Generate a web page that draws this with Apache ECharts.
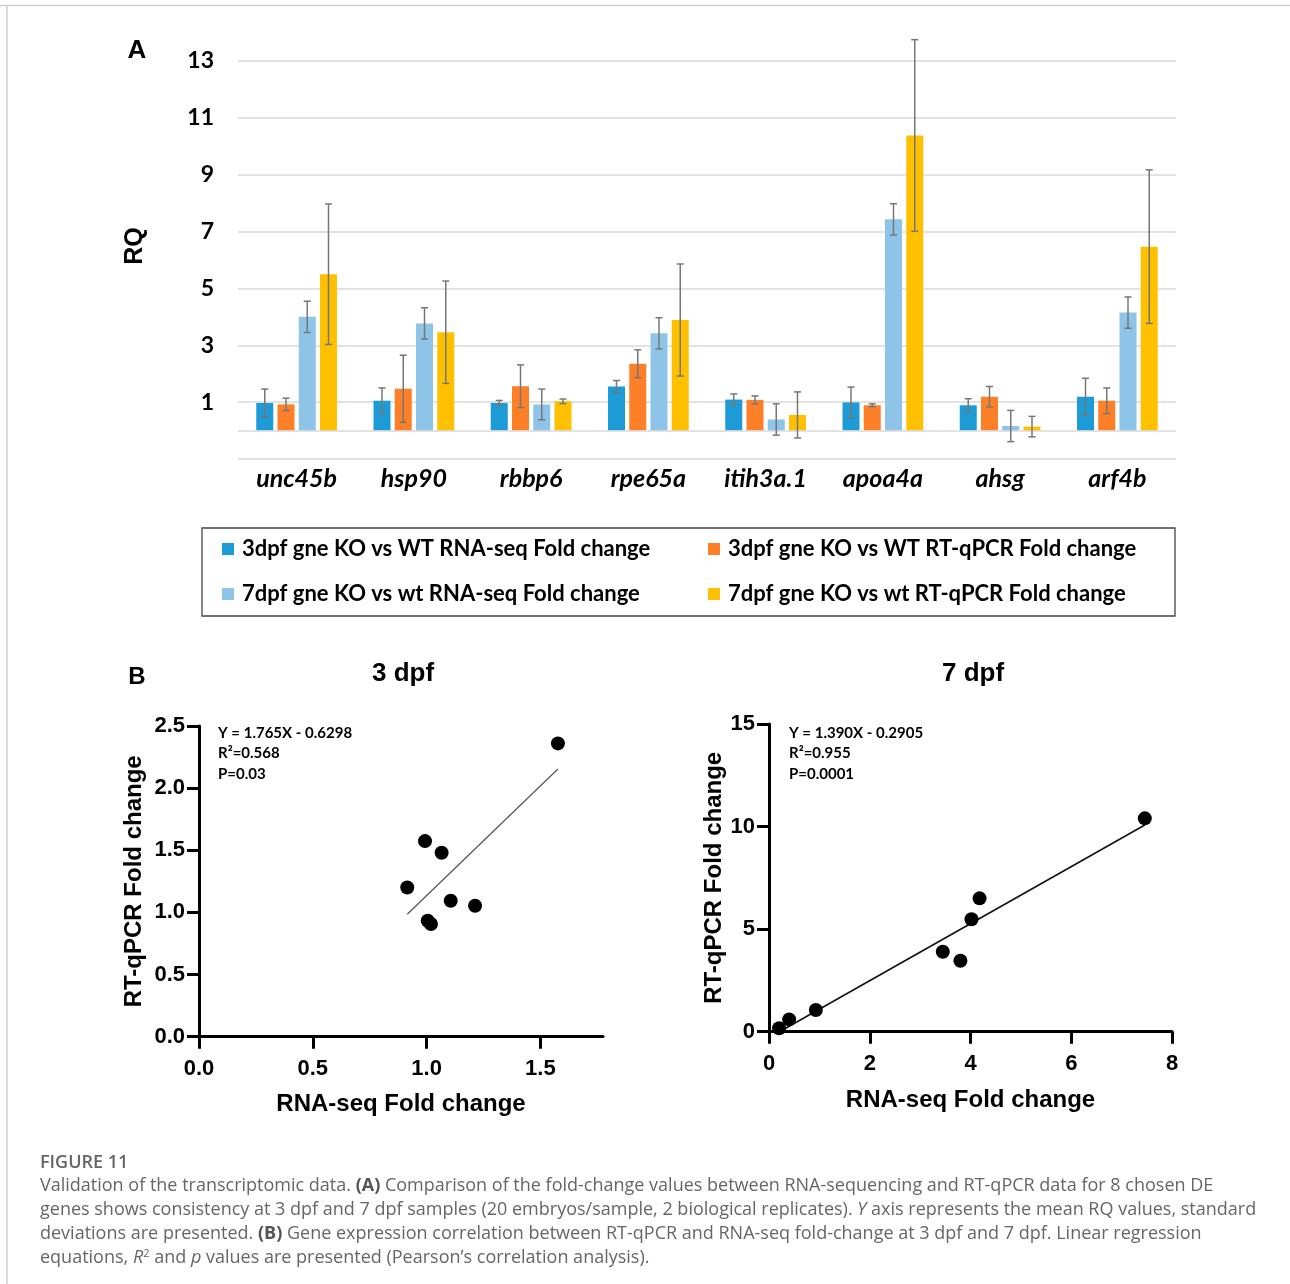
<!DOCTYPE html>
<html><head><meta charset="utf-8">
<script src="https://cdn.jsdelivr.net/npm/echarts@6/dist/echarts.min.js"></script>
<style>html,body{margin:0;padding:0;background:#fff}#c{width:1290px;height:1284px}</style>
</head><body><div id="c"></div>
<script>
// ---------- Panel A data ----------
const genes = ['unc45b','hsp90','rbbp6','rpe65a','itih3a.1','apoa4a','ahsg','arf4b'];
const seriesNames = [
  '3dpf gne KO vs WT RNA-seq Fold change',
  '3dpf gne KO vs WT RT-qPCR Fold change',
  '7dpf gne KO vs wt RNA-seq Fold change',
  '7dpf gne KO vs wt RT-qPCR Fold change'
];
const rnaseq3 = [0.97, 1.05, 0.97, 1.55, 1.09, 0.99, 0.89, 1.19];
const qpcr3   = [0.92, 1.47, 1.56, 2.35, 1.08, 0.89, 1.19, 1.05];
const rnaseq7 = [4.00, 3.77, 0.92, 3.42, 0.39, 7.43, 0.16, 4.15];
const qpcr7   = [5.50, 3.46, 1.03, 3.89, 0.55, 10.38, 0.14, 6.47];
const sd3Rna  = [0.49, 0.45, 0.09, 0.21, 0.20, 0.54, 0.23, 0.65];
const sd3Qpcr = [0.22, 1.18, 0.75, 0.49, 0.14, 0.05, 0.36, 0.45];
const sd7Rna  = [0.55, 0.55, 0.54, 0.55, 0.55, 0.55, 0.55, 0.55];
const sd7Qpcr = [2.47, 1.80, 0.08, 1.97, 0.81, 3.37, 0.36, 2.70];
const rqTicks = [1, 3, 5, 7, 9, 11, 13];

// ---------- Panel B data ----------
const rnaX3 = [1.577, 0.993, 1.066, 0.915, 1.106, 1.213, 1.005, 1.019];
const qpcrY3 = [2.36, 1.574, 1.48, 1.20, 1.094, 1.054, 0.933, 0.907];
const rnaX7 = [7.46, 4.18, 4.02, 3.45, 3.80, 0.93, 0.40, 0.20];
const qpcrY7 = [10.40, 6.50, 5.48, 3.90, 3.46, 1.06, 0.60, 0.17];
const fit3 = [1.765, -0.6298];
const fit7 = [1.390, -0.2905];
const stats3 = ['Y = 1.765X - 0.6298', 'R\u00b2=0.568', 'P=0.03'];
const stats7 = ['Y = 1.390X - 0.2905', 'R\u00b2=0.955', 'P=0.0001'];
const xTicks3 = [0, 0.5, 1, 1.5];

const CAL = 'Lato, "Open Sans", sans-serif';
const ARI = '"Liberation Sans", Arial, sans-serif';
const OPS = '"Open Sans", sans-serif';
const colors = ['#1C9BD7', '#FD7F28', '#8DC4E7', '#FFC000'];
const BW = 17, GAP = 0.25;
const vals = [rnaseq3, qpcr3, rnaseq7, qpcr7];
const errs = [sd3Rna, sd3Qpcr, sd7Rna, sd7Qpcr];

const series = [];
vals.forEach((v, k) => {
  const s = {
    type: 'bar', name: seriesNames[k], xAxisIndex: 0, yAxisIndex: 0,
    data: v, barWidth: BW, barGap: (GAP * 100) + '%',
    itemStyle: { color: colors[k] }, z: 3, silent: true
  };
  if (k === 0) {
    s.markLine = {
      silent: true, symbol: ['none', 'none'], label: { show: false },
      lineStyle: { color: '#d9d9d9', width: 1.5, type: 'solid' },
      data: [{ yAxis: 0 }]
    };
  }
  series.push(s);
});
errs.forEach((e, k) => {
  series.push({
    type: 'custom', xAxisIndex: 0, yAxisIndex: 0, z: 6, silent: true,
    data: vals[k].map((v, i) => [i, v, e[i]]),
    renderItem: (params, api) => {
      const i = api.value(0), v = api.value(1), s = api.value(2);
      const off = (k - 1.5) * BW * (1 + GAP);
      const t = api.coord([i, v + s]), b = api.coord([i, v - s]);
      const x = t[0] + off, cw = 3.5;
      const st = { stroke: '#777', lineWidth: 1.5 };
      return { type: 'group', children: [
        { type: 'line', shape: { x1: x, y1: t[1], x2: x, y2: b[1] }, style: st },
        { type: 'line', shape: { x1: x - cw, y1: t[1], x2: x + cw, y2: t[1] }, style: st },
        { type: 'line', shape: { x1: x - cw, y1: b[1], x2: x + cw, y2: b[1] }, style: st }
      ]};
    }
  });
});

// scatter + fits
function fitLine(xs, f) {
  const lo = Math.min(...xs), hi = Math.max(...xs);
  return [[lo, f[0] * lo + f[1]], [hi, f[0] * hi + f[1]]];
}
series.push({ type: 'line', xAxisIndex: 1, yAxisIndex: 1, data: fitLine(rnaX3, fit3), symbol: 'none',
  lineStyle: { color: '#555', width: 1.2 }, z: 2, silent: true });
series.push({ type: 'scatter', xAxisIndex: 1, yAxisIndex: 1, data: rnaX3.map((x, i) => [x, qpcrY3[i]]),
  symbolSize: 14, itemStyle: { color: '#000', opacity: 1 }, z: 3, silent: true });
series.push({ type: 'line', xAxisIndex: 2, yAxisIndex: 2, data: fitLine(rnaX7, fit7), symbol: 'none',
  lineStyle: { color: '#111', width: 1.6 }, z: 2, silent: true });
series.push({ type: 'scatter', xAxisIndex: 2, yAxisIndex: 2, data: rnaX7.map((x, i) => [x, qpcrY7[i]]),
  symbolSize: 14, itemStyle: { color: '#000', opacity: 1 }, z: 3, silent: true });

const axLine = { show: true, onZero: false, lineStyle: { color: '#000', width: 3 } };
const axTick = { show: true, length: 12, inside: false, lineStyle: { color: '#000', width: 3 } };
const axLab = { fontFamily: ARI, fontWeight: 'bold', fontSize: 22, color: '#000' };
const nameSt = { fontFamily: ARI, fontWeight: 'bold', fontSize: 24, color: '#000' };

const legendBase = {
  left: 222, itemWidth: 12, itemHeight: 12, itemGap: 10, icon: 'rect', padding: 0,
  selectedMode: false,
  textStyle: { fontFamily: CAL, fontWeight: 'bold', fontSize: 22, color: '#000', width: 456, lineHeight: 24, padding: [0, 0, 0, 3] }
};

function statTexts(x, lines) {
  return lines.map((t, i) => ({
    type: 'text', x: x, y: 733 + i * 20.5, silent: true,
    style: { text: t, fontFamily: CAL, fontWeight: 'bold', fontSize: 15, fill: '#000', align: 'left', verticalAlign: 'middle' }
  }));
}
const capBase = { fontFamily: OPS, fontSize: 18, fill: '#666' };
const capRich = {
  b: { fontFamily: OPS, fontSize: 18, fontWeight: 'bold', fill: '#555' },
  i: { fontFamily: OPS, fontSize: 18, fontStyle: 'italic', fill: '#666' },
  sup: { fontFamily: OPS, fontSize: 11, fill: '#666', verticalAlign: 'top', padding: [0, 0, 8, 0] }
};
const capLines = [
  'Validation of the transcriptomic data. {b|(A)} Comparison of the fold-change values between RNA-sequencing and RT-qPCR data for 8 chosen DE',
  'genes shows consistency at 3 dpf and 7 dpf samples (20 embryos/sample, 2 biological replicates). {i|Y} axis represents the mean RQ values, standard',
  'deviations are presented. {b|(B)} Gene expression correlation between RT-qPCR and RNA-seq fold-change at 3 dpf and 7 dpf. Linear regression',
  'equations, {i|R}{sup|2} and {i|p} values are presented (Pearson\u2019s correlation analysis).'
];

const graphics = [
  { type: 'line', shape: { x1: 0, y1: 5.5, x2: 1290, y2: 5.5 }, style: { stroke: '#cfcfcf', lineWidth: 1.5 }, silent: true },
  { type: 'line', shape: { x1: 7, y1: 5, x2: 7, y2: 1284 }, style: { stroke: '#cfcfcf', lineWidth: 1.5 }, silent: true },
  { type: 'text', x: 137, y: 51, silent: true, style: { text: 'A', fontFamily: ARI, fontWeight: 'bold', fontSize: 26, fill: '#000', align: 'center', verticalAlign: 'middle' } },
  { type: 'text', x: 135, y: 246, rotation: Math.PI / 2, silent: true, style: { text: 'RQ', fontFamily: ARI, fontWeight: 'bold', fontSize: 25, fill: '#000', align: 'center', verticalAlign: 'middle' } },
  { type: 'rect', shape: { x: 202, y: 528, width: 973, height: 88 }, style: { fill: 'none', stroke: '#444', lineWidth: 1.3 }, silent: true },
  { type: 'text', x: 137, y: 677, silent: true, style: { text: 'B', fontFamily: ARI, fontWeight: 'bold', fontSize: 24, fill: '#000', align: 'center', verticalAlign: 'middle' } },
  { type: 'text', x: 403, y: 674, silent: true, style: { text: '3 dpf', fontFamily: ARI, fontWeight: 'bold', fontSize: 26, fill: '#000', align: 'center', verticalAlign: 'middle' } },
  { type: 'text', x: 973, y: 674, silent: true, style: { text: '7 dpf', fontFamily: ARI, fontWeight: 'bold', fontSize: 26, fill: '#000', align: 'center', verticalAlign: 'middle' } },
  ...statTexts(218, stats3),
  ...statTexts(789, stats7),
  { type: 'text', x: 40, y: 1163, silent: true, style: { text: 'FIGURE 11', fontFamily: OPS, fontWeight: 600, fontSize: 18, fill: '#666', align: 'left', verticalAlign: 'middle' } },
  ...capLines.map((t, i) => ({
    type: 'text', x: 40, y: 1186 + i * 23.8, silent: true,
    style: Object.assign({ text: t, rich: capRich, align: 'left', verticalAlign: 'middle' }, capBase)
  }))
];

const option = {
  backgroundColor: '#fff',
  animation: false,
  grid: [
    { left: 238, top: 61, width: 938, height: 398 },
    { left: 199, top: 726, width: 404, height: 310.7 },
    { left: 769, top: 724, width: 403, height: 307.7 }
  ],
  legend: [
    Object.assign({}, legendBase, { data: seriesNames.slice(0, 2), top: 537 }),
    Object.assign({}, legendBase, { data: seriesNames.slice(2, 4), top: 582 })
  ],
  xAxis: [
    { gridIndex: 0, type: 'category', data: genes,
      axisLine: { show: false }, axisTick: { show: false }, splitLine: { show: false },
      axisLabel: { fontFamily: CAL, fontStyle: 'italic', fontWeight: 'bold', fontSize: 25, color: '#000', margin: 7 } },
    { gridIndex: 1, type: 'value', min: 0, max: 1.775,
      axisLine: axLine, axisTick: Object.assign({ customValues: xTicks3 }, axTick), splitLine: { show: false },
      axisLabel: Object.assign({ customValues: xTicks3, margin: 21, formatter: v => Number(v).toFixed(1) }, axLab),
      name: 'RNA-seq Fold change', nameLocation: 'middle', nameGap: 56, nameTextStyle: nameSt },
    { gridIndex: 2, type: 'value', min: 0, max: 8, interval: 2,
      axisLine: axLine, axisTick: axTick, splitLine: { show: false },
      axisLabel: Object.assign({ margin: 21 }, axLab),
      name: 'RNA-seq Fold change', nameLocation: 'middle', nameGap: 57, nameTextStyle: nameSt }
  ],
  yAxis: [
    { gridIndex: 0, type: 'value', min: -1, max: 13, interval: 2,
      axisLine: { show: false }, axisTick: { show: false },
      splitLine: { show: true, lineStyle: { color: '#d9d9d9', width: 1.5 } },
      axisLabel: { fontFamily: CAL, fontWeight: 'bold', fontSize: 23, color: '#000', margin: 24,
        formatter: v => (rqTicks.indexOf(v) >= 0 ? String(v) : '') } },
    { gridIndex: 1, type: 'value', min: 0, max: 2.5, interval: 0.5,
      axisLine: axLine, axisTick: axTick, splitLine: { show: false },
      axisLabel: Object.assign({ margin: 14, formatter: v => Number(v).toFixed(1) }, axLab),
      name: 'RT-qPCR Fold change', nameLocation: 'middle', nameGap: 53, nameTextStyle: nameSt },
    { gridIndex: 2, type: 'value', min: 0, max: 15, interval: 5,
      axisLine: axLine, axisTick: axTick, splitLine: { show: false },
      axisLabel: Object.assign({ margin: 14 }, axLab),
      name: 'RT-qPCR Fold change', nameLocation: 'middle', nameGap: 43, nameTextStyle: nameSt }
  ],
  series: series,
  graphic: graphics
};

const chart = echarts.init(document.getElementById('c'), null, { renderer: 'canvas', width: 1290, height: 1284 });
chart.setOption(option);
</script>
</body></html>
